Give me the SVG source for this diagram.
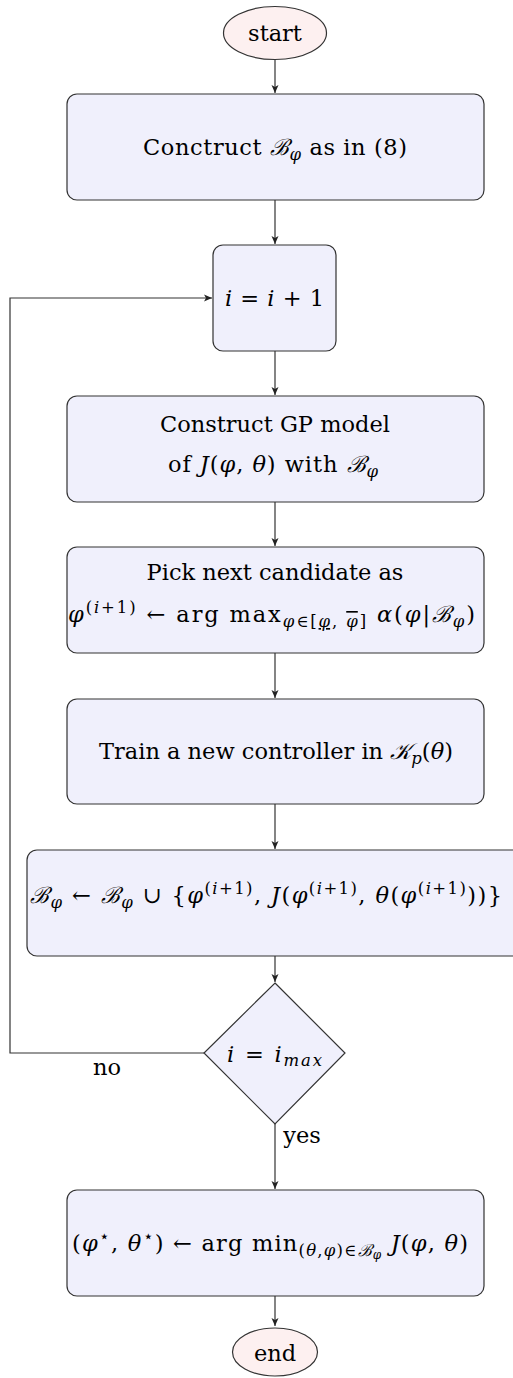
<svg xmlns="http://www.w3.org/2000/svg" width="513" height="1378" viewBox="0 0 513 1378">
<style>
text{font-family:"DejaVu Serif","Liberation Serif",serif;font-size:22.5px;fill:#000;text-anchor:middle}
.m{font-style:italic}
.s{font-size:16.5px}
.box{fill:#f0f0fc;stroke:#333;stroke-width:1.2}
.term{fill:#fdf0f0;stroke:#333;stroke-width:1.2}
.c{fill:none;stroke:#333;stroke-width:1.2}
</style>
<defs>
<marker id="ah" markerWidth="10" markerHeight="8" refX="8" refY="4" orient="auto" markerUnits="userSpaceOnUse">
<path d="M0,0.5 L8,4 L0,7.5 L2,4 Z" fill="#222"/>
</marker>
</defs>
<rect width="513" height="1378" fill="#fff"/>
<g id="connectors">
<line class="c" x1="275" y1="60" x2="275" y2="93" marker-end="url(#ah)"/>
<line class="c" x1="275" y1="200" x2="275" y2="244" marker-end="url(#ah)"/>
<line class="c" x1="275" y1="351" x2="275" y2="395" marker-end="url(#ah)"/>
<line class="c" x1="275" y1="502" x2="275" y2="546" marker-end="url(#ah)"/>
<line class="c" x1="275" y1="653" x2="275" y2="698" marker-end="url(#ah)"/>
<line class="c" x1="275" y1="804" x2="275" y2="849" marker-end="url(#ah)"/>
<line class="c" x1="275" y1="956" x2="275" y2="982" marker-end="url(#ah)"/>
<line class="c" x1="275" y1="1124" x2="275" y2="1189" marker-end="url(#ah)"/>
<line class="c" x1="275" y1="1296" x2="275" y2="1326" marker-end="url(#ah)"/>
<polyline class="c" points="204,1053 10,1053 10,298 212,298" marker-end="url(#ah)"/>
<text x="107" y="1075">no</text>
<text x="302" y="1143">yes</text>
</g>
<g id="start">
<ellipse class="term" cx="275" cy="33" rx="51.5" ry="26.5"/>
<text x="275" y="41">start</text>
</g>
<g id="construct-B">
<rect class="box" x="67" y="94" width="417" height="106" rx="10"/>
<text x="275" y="155" textLength="264">Conctruct <tspan class="m">ℬ</tspan><tspan class="m s" dy="5">φ</tspan><tspan dy="-5"> as in (8)</tspan></text>
</g>
<g id="increment">
<rect class="box" x="213" y="245" width="123" height="106" rx="10"/>
<text x="274.5" y="306" textLength="99"><tspan class="m">i</tspan> = <tspan class="m">i</tspan> + 1</text>
</g>
<g id="gp-model">
<rect class="box" x="67" y="396" width="417" height="106" rx="10"/>
<text x="275" y="432">Construct GP model</text>
<text x="273" y="472" textLength="210">of <tspan class="m">J</tspan>(<tspan class="m">φ</tspan>, <tspan class="m">θ</tspan>) with <tspan class="m">ℬ</tspan><tspan class="m s" dy="5">φ</tspan></text>
</g>
<g id="pick-candidate">
<rect class="box" x="67" y="547" width="417" height="106" rx="10"/>
<text x="275" y="580">Pick next candidate as</text>
<text x="271.5" y="622" textLength="407"><tspan class="m">φ</tspan><tspan class="s" dy="-9">(<tspan class="m">i</tspan>+1)</tspan><tspan dy="9"> ← arg max</tspan><tspan class="s" dy="5"><tspan class="m">φ</tspan>∈[<tspan class="m" text-decoration="underline">φ</tspan>, <tspan class="m" text-decoration="overline">φ</tspan>]</tspan><tspan dy="-5"> <tspan class="m">α</tspan>(<tspan class="m">φ</tspan>|<tspan class="m">ℬ</tspan></tspan><tspan class="m s" dy="5">φ</tspan><tspan dy="-5">)</tspan></text>
</g>
<g id="train">
<rect class="box" x="67" y="699" width="417" height="105" rx="10"/>
<text x="276" y="759">Train a new controller in <tspan class="m">𝒦</tspan><tspan class="m s" dy="5">p</tspan><tspan dy="-5">(<tspan class="m">θ</tspan>)</tspan></text>
</g>
<g id="update-B">
<rect class="box" x="27" y="850" width="496" height="106" rx="10"/>
<text x="266" y="903" textLength="472"><tspan class="m">ℬ</tspan><tspan class="m s" dy="5">φ</tspan><tspan dy="-5"> ← </tspan><tspan class="m">ℬ</tspan><tspan class="m s" dy="5">φ</tspan><tspan dy="-5"> ∪ {<tspan class="m">φ</tspan></tspan><tspan class="s" dy="-9">(<tspan class="m">i</tspan>+1)</tspan><tspan dy="9">, <tspan class="m">J</tspan>(<tspan class="m">φ</tspan></tspan><tspan class="s" dy="-9">(<tspan class="m">i</tspan>+1)</tspan><tspan dy="9">, <tspan class="m">θ</tspan>(<tspan class="m">φ</tspan></tspan><tspan class="s" dy="-9">(<tspan class="m">i</tspan>+1)</tspan><tspan dy="9">))}</tspan></text>
</g>
<g id="decision">
<polygon class="box" points="275,983 345,1053 275,1124 204,1053"/>
<text x="274.5" y="1062" textLength="95"><tspan class="m">i</tspan> = <tspan class="m">i</tspan><tspan class="m s" dy="4">max</tspan></text>
</g>
<g id="argmin">
<rect class="box" x="67" y="1190" width="417" height="106" rx="10"/>
<text x="270" y="1251" textLength="396">(<tspan class="m">φ</tspan><tspan class="s" dy="-9">⋆</tspan><tspan dy="9">, <tspan class="m">θ</tspan></tspan><tspan class="s" dy="-9">⋆</tspan><tspan dy="9">) ← arg min</tspan><tspan class="s" dy="5">(<tspan class="m">θ</tspan>,<tspan class="m">φ</tspan>)∈<tspan class="m">ℬ</tspan><tspan class="m" font-size="12" dy="3">φ</tspan></tspan><tspan dy="-8"> <tspan class="m">J</tspan>(<tspan class="m">φ</tspan>, <tspan class="m">θ</tspan>)</tspan></text>
</g>
<g id="end">
<ellipse class="term" cx="275" cy="1352" rx="42.5" ry="24"/>
<text x="275" y="1361">end</text>
</g>
</svg>
